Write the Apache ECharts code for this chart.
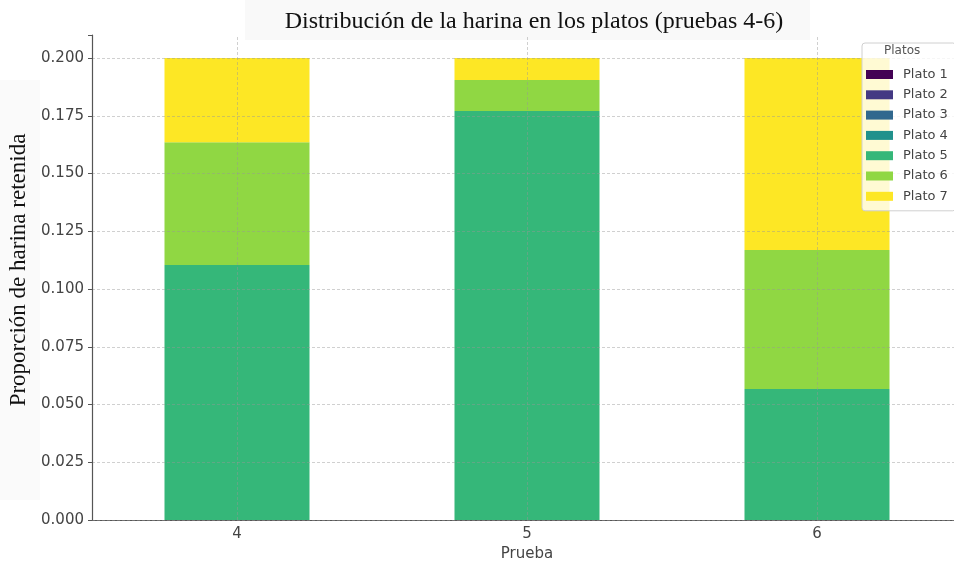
<!DOCTYPE html>
<html>
<head>
<meta charset="utf-8">
<script src="https://cdn.jsdelivr.net/npm/echarts@6/dist/echarts.min.js"></script>
<style>html,body{margin:0;padding:0;background:#fff;}#c{width:954px;height:564px;}</style>
</head>
<body>
<div id="c"></div>
<script>
var categories = ['4', '5', '6'];
var seriesNames = ['Plato 1', 'Plato 2', 'Plato 3', 'Plato 4', 'Plato 5', 'Plato 6', 'Plato 7'];
var plato1 = [0, 0, 0];
var plato2 = [0, 0, 0];
var plato3 = [0, 0, 0];
var plato4 = [0, 0, 0];
var plato5 = [0.1104, 0.1771, 0.0567];
var plato6 = [0.0532, 0.0134, 0.0602];
var plato7 = [0.0364, 0.0095, 0.0831];
var yTicks = [0, 0.025, 0.05, 0.075, 0.1, 0.125, 0.15, 0.175, 0.2];
var colors = ['#440154', '#443983', '#31688e', '#21918c', '#35b779', '#90d743', '#fde725'];
var allData = [plato1, plato2, plato3, plato4, plato5, plato6, plato7];

var chart = echarts.init(document.getElementById('c'), null, {renderer: 'canvas'});
var series = seriesNames.map(function (n, i) {
  var s = {
    name: n, type: 'bar', stack: 'total', data: allData[i], barWidth: '50%',
    itemStyle: {color: colors[i]}, emphasis: {disabled: true}
  };
  if (i === 6) {
    s.markLine = {
      silent: true, symbol: 'none', label: {show: false}, animation: false,
      lineStyle: {color: 'rgba(150,150,150,0.45)', type: [3, 2], width: 1},
      data: categories.map(function (c) { return {xAxis: c}; })
    };
  }
  return s;
});

chart.setOption({
  animation: false,
  backgroundColor: '#ffffff',
  color: colors,
  graphic: [
    {type: 'rect', shape: {x: 245, y: 0, width: 565, height: 40}, style: {fill: '#f9f9f9'}, z: -1},
    {type: 'rect', shape: {x: 0, y: 80, width: 40, height: 420}, style: {fill: '#fafafa'}, z: -1},
    {type: 'text', left: 884, top: 45, style: {text: 'Platos', font: '12px DejaVu Sans', fill: '#555'}, z: 100},
    {type: 'text', x: 19, y: 270, rotation: Math.PI / 2,
     style: {text: 'Proporción de harina retenida', font: '23px "Liberation Serif"', fill: '#111',
             align: 'center', verticalAlign: 'middle'}, z: 100}
  ],
  title: {
    text: 'Distribución de la harina en los platos (pruebas 4-6)',
    left: 529, top: 5, textAlign: 'center',
    textStyle: {fontFamily: 'Liberation Serif', fontSize: 24, fontWeight: 'normal', color: '#111'}
  },
  legend: {
    orient: 'vertical', left: 862, top: 43,
    data: seriesNames,
    itemWidth: 27, itemHeight: 9, itemGap: 7.3,
    padding: [25, 8, 8, 4],
    backgroundColor: 'rgba(255,255,255,0.8)',
    borderColor: '#d0d0d0', borderWidth: 1, borderRadius: 3,
    textStyle: {fontFamily: 'DejaVu Sans', fontSize: 13, color: '#444', padding: [0, 0, 0, 5]},
    icon: 'rect', selectedMode: false
  },
  grid: {left: 92, right: -8, top: 35, bottom: 44, containLabel: false, outerBoundsMode: 'none'},
  xAxis: {
    type: 'category', data: categories,
    name: 'Prueba', nameLocation: 'middle', nameGap: 26,
    nameTextStyle: {fontFamily: 'DejaVu Sans', fontSize: 15, color: '#444'},
    axisLine: {lineStyle: {color: '#555', width: 1.2}},
    axisTick: {alignWithLabel: true, length: 4, lineStyle: {color: '#555'}},
    axisLabel: {fontFamily: 'DejaVu Sans', fontSize: 15, color: '#444', margin: 7},
    splitLine: {show: false}
  },
  yAxis: {
    type: 'value', min: 0, max: 0.21, interval: 0.025, z: 3,
    axisLine: {show: true, lineStyle: {color: '#555', width: 1.2}},
    axisTick: {show: true, length: 4, lineStyle: {color: '#555'}},
    axisLabel: {
      fontFamily: 'DejaVu Sans', fontSize: 15, color: '#444', margin: 8,
      formatter: function (v) { return yTicks.indexOf(+v.toFixed(3)) >= 0 ? v.toFixed(3) : ''; }
    },
    splitLine: {show: true, showMaxLine: false, lineStyle: {color: 'rgba(150,150,150,0.45)', type: [3, 2], width: 1}}
  },
  series: series
});
</script>
</body>
</html>
